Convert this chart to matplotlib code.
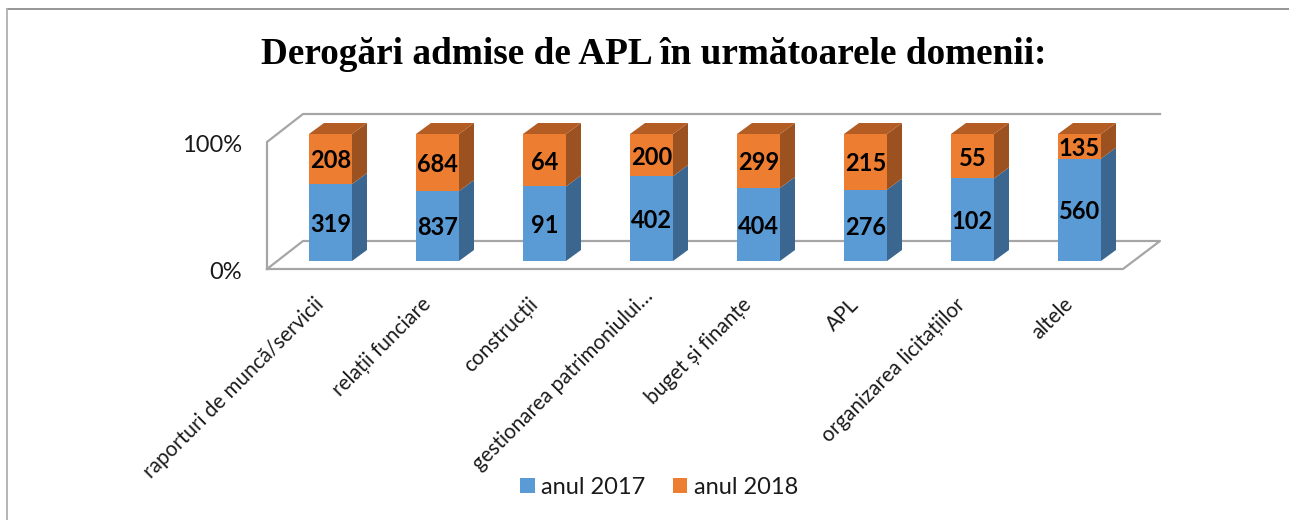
import matplotlib
matplotlib.use("Agg")
import matplotlib.pyplot as plt
from matplotlib.lines import Line2D
from matplotlib.patches import Polygon, Patch
from matplotlib.transforms import ScaledTranslation

categories = ['raporturi de muncă/servicii', 'relații funciare', 'construcții',
              'gestionarea patrimoniului…', 'buget și finanțe', 'APL',
              'organizarea licitațiilor', 'altele']
anul_2017 = [319, 837, 91, 402, 404, 276, 102, 560]
anul_2018 = [208, 684, 64, 200, 299, 215, 55, 135]
y_tick_labels = ['0%', '100%']

W, H = 1289, 520
plt.rcParams['font.family'] = ['Lato', 'DejaVu Sans']

fig = plt.figure(figsize=(W / 100, H / 100), dpi=100)
fig.patch.set_facecolor('white')

# axes mapped on the middle plane of the 3d box, in pixels
left, right, bottom, top = 277, 1133, 261, 134
ax = fig.add_axes([left / W, 1 - bottom / H, (right - left) / W, (bottom - top) / H])
for s in ax.spines.values():
    s.set_visible(False)
ax.patch.set_visible(False)

px_x = 8 / (right - left)
px_y = 100 / (bottom - top)

# box
grey = '#a6a6a6'
x0, x1 = -0.5 - 10 * px_x, 7.5 - 10 * px_x
bx0, bx1 = -0.5 + 26 * px_x, 7.5 + 27 * px_x
fy, by = -8 * px_y, 20 * px_y
ax.plot([x0, bx0, bx1, x1, x0], [fy, by, by, fy, fy], color=grey, lw=1.6, clip_on=False, zorder=1)
ax.plot([x0, x0, bx0, bx1], [fy, fy + 100, by + 100, by + 100], color=grey, lw=1.6, clip_on=False, zorder=1)

# bars with side and top faces
bw = 43 / 107
dx, dy = 15 * px_x, 11 * px_y
colors = {'f1': '#5b9bd5', 's1': '#3a6690', 'f2': '#ed7d31', 's2': '#9c5220', 't2': '#b35c23'}
for i, (a, b) in enumerate(zip(anul_2017, anul_2018)):
    p = a / (a + b) * 100
    l, r = i - bw / 2, i + bw / 2
    ax.add_patch(Polygon([(r, 0), (r + dx, dy), (r + dx, p + dy), (r, p)], fc=colors['s1'], ec='none', zorder=2, clip_on=False))
    ax.add_patch(Polygon([(r, p), (r + dx, p + dy), (r + dx, 100 + dy), (r, 100)], fc=colors['s2'], ec='none', zorder=2, clip_on=False))
    ax.add_patch(Polygon([(l, 100), (l + dx, 100 + dy), (r + dx, 100 + dy), (r, 100)], fc=colors['t2'], ec='none', zorder=2, clip_on=False))
    ax.bar(i, p, bw, color=colors['f1'], zorder=3)
    ax.bar(i, 100 - p, bw, bottom=p, color=colors['f2'], zorder=3)
    ax.text(i, p / 2 - 1.5, str(a), ha='center', va='center', fontsize=17, fontweight='bold', color='black', zorder=4)
    ax.text(i, p + (100 - p) / 2 - 1.5, str(b), ha='center', va='center', fontsize=17, fontweight='bold', color='black', zorder=4)

ax.set_xticks(range(len(categories)))
ax.set_xticklabels(categories, rotation=45, ha='right', va='top', rotation_mode='anchor', fontsize=14.9, color='#1a1a1a')
ax.tick_params(axis='x', length=0, pad=24)
shift = ScaledTranslation(-17 / 100, 0, fig.dpi_scale_trans)
for i, lab in enumerate(ax.get_xticklabels()):
    lab.set_transform(lab.get_transform() + shift)
    if i == 3:  # the long one ends further up in the reference
        lab.set_transform(lab.get_transform() + ScaledTranslation(0.08, 0.08, fig.dpi_scale_trans))

# the 0% and 100% sit on the front wall, below the bar base
ax.set_yticks([])
for lab, y in zip(y_tick_labels, [fy, fy + 100]):
    ax.annotate(lab, xy=(x0, y), xytext=(-18, -2.5), textcoords='offset points', ha='right', va='center',
                fontsize=17, color='#1a1a1a', annotation_clip=False)
ax.set_xlim(-0.5, 7.5)
ax.set_ylim(0, 100)

fig.text(653.5 / W, 1 - 55 / H, 'Derogări admise de APL în următoarele domenii:', ha='center', va='center',
         family=['Liberation Serif'], fontweight='bold', fontsize=26.8, color='black')

fig.legend(handles=[Patch(fc=colors['f1'], label='anul 2017'), Patch(fc=colors['f2'], label='anul 2018')],
           loc='center', bbox_to_anchor=(659 / W, 1 - 487 / H), ncol=2, frameon=False, fontsize=17,
           handlelength=0.62, handleheight=0.62, handletextpad=0.27, columnspacing=1.15, labelcolor='#1a1a1a')

# outer border, only top and left are visible
fig.add_artist(Line2D([7 / W, 1], [1 - 8.5 / H, 1 - 8.5 / H], transform=fig.transFigure, color='#8c8c8c', lw=1.3))
fig.add_artist(Line2D([7 / W, 7 / W], [0, 1 - 8.5 / H], transform=fig.transFigure, color='#b0b0b0', lw=1.3))

fig.savefig('out.png', dpi=100)
